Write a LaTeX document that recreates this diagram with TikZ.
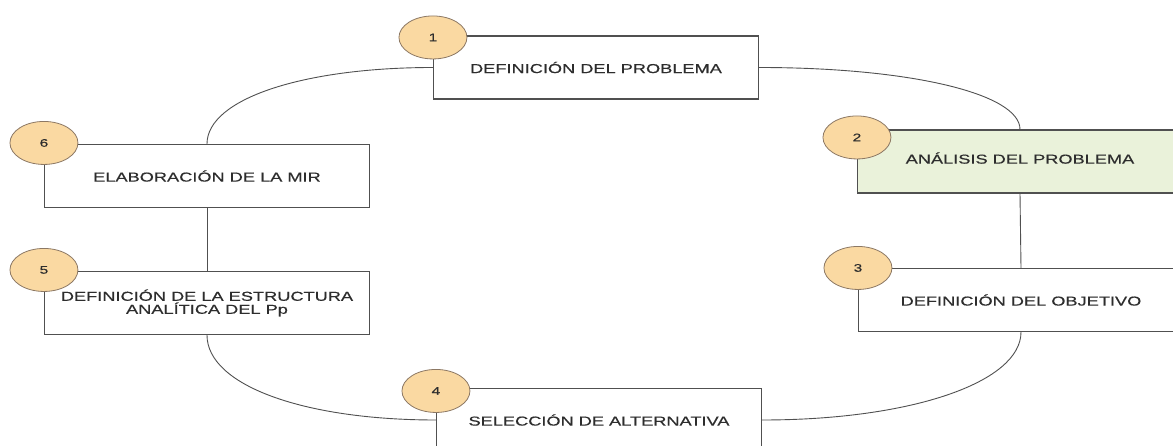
\documentclass[tikz,border=0pt]{standalone}
\usepackage{fontspec}
\usetikzlibrary{shapes.geometric}
\newfontfamily\boxfont{Liberation Sans}[FakeStretch=1.4,FakeBold=0.4]
\definecolor{boxline}{RGB}{80,80,80}
\definecolor{boxtext}{RGB}{45,45,45}
\definecolor{numfill}{RGB}{250,217,162}
\definecolor{numline}{RGB}{140,120,100}
\definecolor{stepgreen}{RGB}{234,242,218}
\tikzset{
  stepbox/.style={draw=boxline, line width=1.1pt, fill=white, minimum width=325pt,
    minimum height=63pt, inner sep=2pt, align=center, text=boxtext,
    font=\boxfont\fontsize{13}{13}\selectfont},
  stepnum/.style={ellipse, draw=numline, line width=0.8pt, fill=numfill,
    minimum width=68pt, minimum height=43pt, inner sep=0pt, text=boxtext,
    font=\boxfont\fontsize{11}{11}\selectfont}
}
\begin{document}
\begin{tikzpicture}[x=1pt,y=-1pt]
  \useasboundingbox (0,0) rectangle (1173,446);
  \clip (0,0) rectangle (1173,446);
  \draw
    (596,67.5) node[stepbox] (b1){DEFINICIÓN DEL PROBLEMA}
    (1020,161.5) node[stepbox, fill=stepgreen] (b2){\raisebox{7pt}{ANÁLISIS DEL PROBLEMA}}
    (1021,300) node[stepbox] (b3){DEFINICIÓN DEL OBJETIVO}
    (599,420) node[stepbox] (b4){SELECCIÓN DE ALTERNATIVA}
    (207,303) node[stepbox] (b5){DEFINICIÓN DE LA ESTRUCTURA\\ANALÍTICA DEL Pp}
    (207,176) node[stepbox] (b6){ELABORACIÓN DE LA MIR};
  \begin{scope}[line width=0.9pt, draw=boxline]
    \draw (b1.west) .. controls +(-130,0) and +(0,-45) .. (b6.north);
    \draw (b1.east) .. controls +(150,0) and +(0,-36) .. (b2.north);
    \draw (b2.south) to (b3.north);
    \draw (b3.south) .. controls +(0,50) and +(150,0) .. (b4.east);
    \draw (b5.south) .. controls +(0,50) and +(-133,0) .. (b4.west);
    \draw (b6.south) to (b5.north);
  \end{scope}
  \draw
    ([yshift=-2pt]b1.north west) node[stepnum] (n1){1}
    ([yshift=-8pt]b2.north west) node[stepnum] (n2){2}
    ([yshift=0pt]b3.north west) node[stepnum] (n3){3}
    ([yshift=-3pt]b4.north west) node[stepnum] (n4){4}
    ([yshift=1pt]b5.north west) node[stepnum] (n5){5}
    ([yshift=1pt]b6.north west) node[stepnum] (n6){6};
\end{tikzpicture}
\end{document}
